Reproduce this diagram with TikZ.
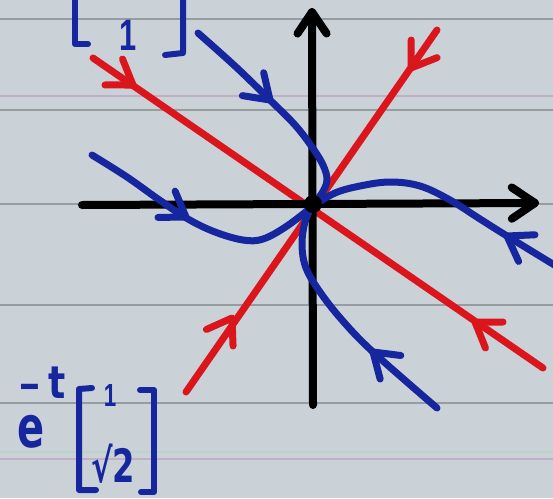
\documentclass[tikz,border=0pt]{standalone}
\usepackage{fontspec}
\setmainfont{DejaVu Sans}
\newfontfamily\libsans{Liberation Sans}
\usetikzlibrary{calc}
\definecolor{paper}{RGB}{202,209,215}
\definecolor{rulegrey}{RGB}{150,157,160}
\definecolor{rulepink}{RGB}{192,176,198}
\definecolor{rulegreen}{RGB}{186,212,198}
\definecolor{inkblue}{RGB}{22,38,158}
\definecolor{inkred}{RGB}{218,22,28}
\newcommand\mybarbs[4]{\draw[#1] ($(#2)!#4pt!34:(#3)$) -- (#2) -- ($(#2)!#4pt!-34:(#3)$);}
\begin{document}
\begin{tikzpicture}[x=1pt,y=-1pt,line cap=round,line join=round,
  blueline/.style={line width=7pt,draw=inkblue},
  redline/.style={line width=7pt,draw=inkred},
  axisline/.style={line width=8pt,draw=black},
  pen/.style={line width=6pt,draw=inkblue},
  hand/.style={text=inkblue,inner sep=0pt}]
\fill[paper] (0,0) rectangle (553,498);
\useasboundingbox (0,0) rectangle (553,498);
\clip (0,0) rectangle (553,498);
% ruled paper
\foreach \yy in {19,110,204,305,403}{\draw[rulegrey,line width=2.5pt] (0,\yy) -- (553,\yy);}
\draw[rulepink,line width=1.5pt] (0,96) -- (553,96);
\draw[rulegreen,line width=1.5pt] (0,452) -- (553,452);
\draw[rulepink,line width=1.5pt] (0,459) -- (553,459);
% coordinates
\coordinate (O) at (313,204);
\coordinate (xl) at (82,205);
\coordinate (xr) at (535,203);
\coordinate (yb) at (313,405);
\coordinate (yt) at (312,12);
\coordinate (ra1) at (93,58);
\coordinate (ra2) at (543,368);
\coordinate (rb1) at (437,30);
\coordinate (rb2) at (186,392);
% red eigen-lines
\draw[redline] (ra1) -- (ra2);
\draw[redline] (rb1) -- (rb2);
\mybarbs{redline}{133,85}{ra1}{28}
\mybarbs{redline}{475,322}{ra2}{28}
\mybarbs{redline}{411,68}{rb1}{28}
\mybarbs{redline}{232,318}{rb2}{28}
% axes
\draw[axisline] (xl) -- (xr);
\draw[axisline] (yb) -- (yt);
\mybarbs{axisline}{xr}{xl}{28}
\mybarbs{axisline}{yt}{yb}{26}
% blue trajectories
\coordinate (bt0) at (198,33);
\coordinate (br0) at (556,266);
\coordinate (bb0) at (437,408);
\coordinate (bl0) at (92,155);
\draw[blueline] plot[smooth,tension=0.6] coordinates {(bt0) (236,67) (270,100) (295,125) (312,147) (323,165) (327,180) (322,193) (313,204)};
\draw[blueline] plot[smooth,tension=0.6] coordinates {(313,204) (305,222) (302,245) (306,268) (320,292) (342,320) (373,352) (bb0)};
\draw[blueline] plot[smooth,tension=0.6] coordinates {(bl0) (127,177) (158,199) (188,219) (215,232) (243,240) (263,239) (287,226) (313,206)};
\draw[blueline] plot[smooth,tension=0.6] coordinates {(313,206) (335,193) (360,186) (390,182) (420,186) (450,200) (480,219) (507,236) (br0)};
\mybarbs{blueline}{270,100}{bt0}{28}
\mybarbs{blueline}{507,236}{br0}{28}
\mybarbs{blueline}{373,352}{bb0}{28}
\mybarbs{blueline}{186,217}{140,187}{28}
% origin
\fill[black] (O) circle (9);
% top-left label (cut off)
\draw[pen] (75,-5) -- (75,44) -- (88,44);
\draw[pen] (183,-5) -- (183,53) -- (165,55);
\node[hand,font=\libsans\fontsize{44}{44}\selectfont\bfseries] (t1) at (128,35) {\scalebox{0.7}[1]{1}};
% bottom-left label
\node[hand,font=\fontsize{50}{50}\selectfont\bfseries] (e) at (31,432) {\scalebox{0.8}[1.15]{e}};
\node[hand,font=\fontsize{36}{36}\selectfont\bfseries] (t) at (57,383) {\scalebox{1}[1.25]{t}};
\node[hand,font=\fontsize{46}{46}\selectfont\bfseries] (m) at (30,391) {\scalebox{1.2}[0.8]{-}};
\draw[pen] (92,388) -- (79,389) -- (79,490) -- (96,490);
\draw[pen] (140,390) -- (154,390) -- (154,492) -- (141,492);
\node[hand,font=\libsans\fontsize{32}{32}\selectfont\bfseries] (one) at (110,395) {\scalebox{0.7}[1]{1}};
\node[hand,font=\fontsize{46}{46}\selectfont\bfseries] (r2) at (113,464) {\scalebox{0.7}[1]{√2}};
\end{tikzpicture}
\end{document}
